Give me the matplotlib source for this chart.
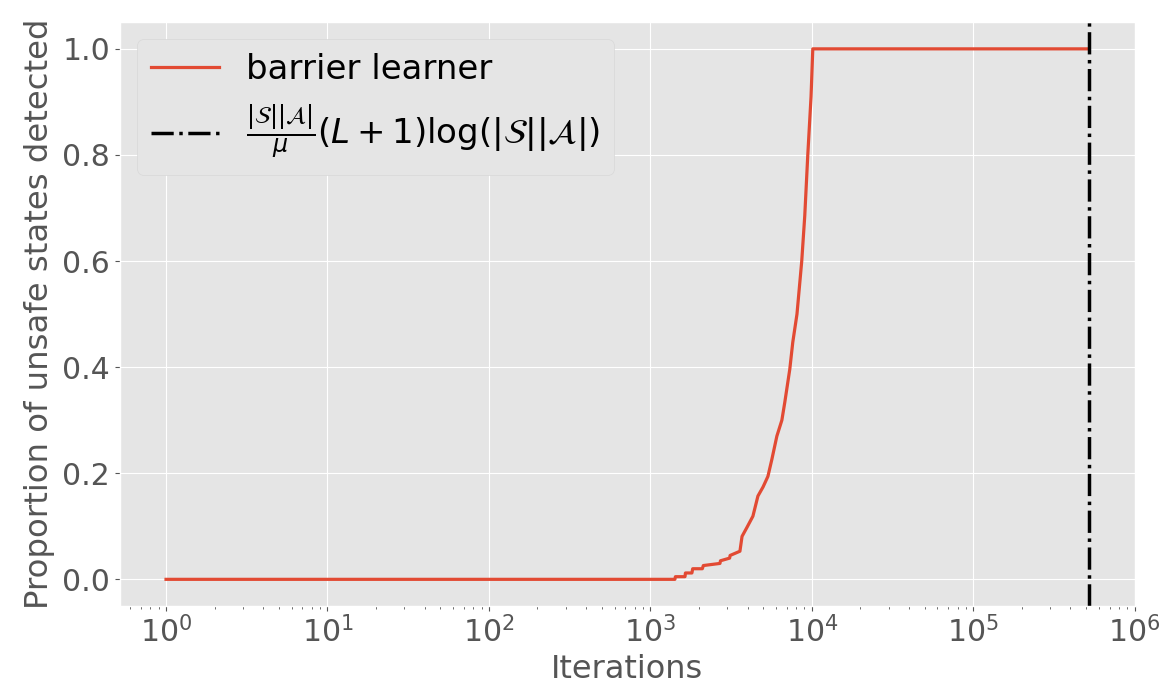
import matplotlib
matplotlib.use("Agg")
import matplotlib.pyplot as plt

plt.style.use("ggplot")

iterations = [1, 1420, 1430, 1640, 1650, 1810, 1830, 2100, 2130, 2700, 2720, 3100,
              3120, 3590, 3700, 3970, 4320, 4640, 4990, 5350, 5660, 6080, 6530, 6810,
              7310, 7630, 8100, 8670, 9050, 9450, 9900, 10150, 520000]
proportion = [0, 0, 0.005, 0.005, 0.012, 0.012, 0.02, 0.02, 0.026, 0.03, 0.035, 0.04,
              0.045, 0.053, 0.081, 0.098, 0.119, 0.157, 0.174, 0.194, 0.226, 0.27, 0.30, 0.334,
              0.396, 0.447, 0.50, 0.60, 0.685, 0.80, 0.91, 1.0, 1.0]
bound = 520000

series_label = "barrier learner"
bound_label = r"$\frac{|\mathcal{S}||\mathcal{A}|}{\mu}(L+1)\log(|\mathcal{S}||\mathcal{A}|)$"
xlabel = "Iterations"
ylabel = "Proportion of unsafe states detected"

fig = plt.figure(figsize=(11.64, 6.98), dpi=100)
ax = fig.add_axes([0.103, 0.132, 0.872, 0.836])

ax.plot(iterations, proportion, color="#E24A33", lw=2.3, label=series_label)
ax.axvline(bound, color="black", ls="-.", lw=2.5, label=bound_label)
ax.set_xscale("log")

ax.set_xlabel(xlabel, fontsize=23, color="#555555", labelpad=4)
ax.set_ylabel(ylabel, fontsize=23.3, color="#555555", labelpad=5)
ax.tick_params(axis="both", which="major", labelsize=21.5, colors="#555555")
ax.tick_params(axis="x", which="minor", colors="#555555")

leg = ax.legend(loc="upper left", fontsize=24.5, facecolor="#E5E5E5", edgecolor="#D8D8D8",
                framealpha=1.0, handlelength=2.0, borderaxespad=0.5)
for t in leg.get_texts():
    t.set_color("black")

fig.savefig("out.png", dpi=100)
